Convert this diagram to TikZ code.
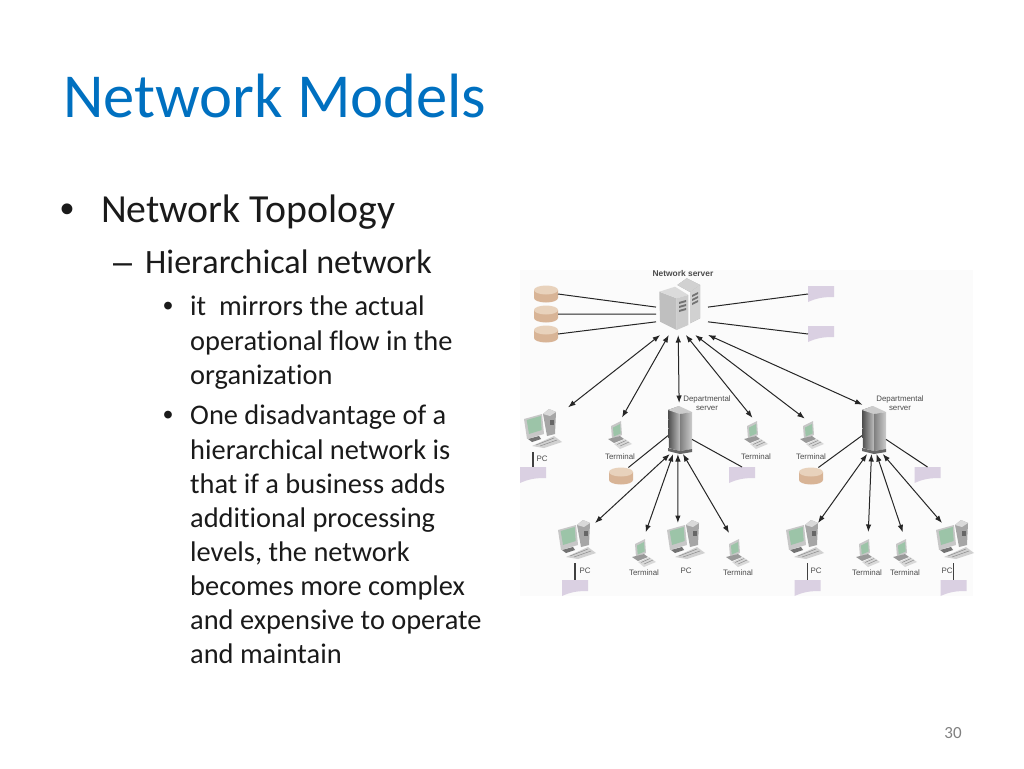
\documentclass[tikz,border=0pt]{standalone}
\usepackage{fontspec}
\setmainfont{Carlito}[Ligatures=NoCommon]
\newfontfamily\labelfont{Liberation Sans}
\usetikzlibrary{arrows.meta}
\definecolor{titleblue}{HTML}{0070C0}
\definecolor{bodyink}{HTML}{1A1A1A}
\definecolor{diskbody}{HTML}{D8B496}
\definecolor{disktop}{HTML}{E8D2BC}
\definecolor{docmauve}{HTML}{DAD0E2}
\definecolor{screengreen}{HTML}{9CC4A8}
\begin{document}
\begin{tikzpicture}[x=1pt, y=-1pt]
  \tikzset{
    slidetitle/.style={anchor=base west, inner sep=0, text=titleblue, font=\fontsize{62.6}{70}\selectfont},
    levelone/.style={anchor=base west, inner sep=0, text=bodyink, font=\fontsize{39.8}{48}\selectfont},
    leveltwo/.style={anchor=base west, inner sep=0, text=bodyink, font=\fontsize{34.1}{41}\selectfont},
    levelthree/.style={anchor=north west, inner sep=0, align=left, text=bodyink, font=\fontsize{28.4}{34.1}\selectfont},
    bulletmark/.style={anchor=base west, inner sep=0, text=bodyink, font=\labelfont\fontsize{#1}{#1}\selectfont},
    iconlabel/.style={inner sep=0, text=black!70, align=center, font=\labelfont\fontsize{7.9}{9.2}\selectfont},
    hidden box/.style={inner sep=0, outer sep=0, minimum width=#1},
    diskbox/.style={hidden box=24pt, minimum height=17pt},
    docbox/.style={hidden box=26pt, minimum height=16pt},
    pcbox/.style={hidden box=36pt, minimum height=32pt},
    termbox/.style={hidden box=24pt, minimum height=28pt},
    deptbox/.style={hidden box=24pt, minimum height=48pt},
    netbox/.style={hidden box=52pt, minimum height=54pt},
    plainlink/.style={draw=black!85, line width=1pt},
    duallink/.style={plainlink, >={Latex[length=7.5pt,width=5.5pt]}, <->},
    stem/.style={draw=black!75, line width=1.1pt},
  }
  \useasboundingbox (0,0) rectangle (1024,768);
  \fill[black!1.5] (520,270) rectangle (973,596);
  % ===== Slide text =====
  \node[slidetitle] (title) at (63,117) {Network Models};
  \node[bulletmark=39.8] (bulA) at (60,222) {•};
  \node[levelone] (topA) at (101,222) {Network Topology};
  \node[bulletmark=34.1] (bulB) at (113,273) {–};
  \node[leveltwo] (topB) at (145,273) {Hierarchical network};
  \node[bulletmark=28.4] (bulC) at (163,315) {•};
  \node[levelthree] (topC) at (190,296) {it~ mirrors the actual\\operational flow in the\\organization};
  \node[bulletmark=28.4] (bulD) at (163,424) {•};
  \node[levelthree] (topD) at (190,405) {One disadvantage of a\\hierarchical network is\\that if a business adds\\additional processing\\levels, the network\\becomes more complex\\and expensive to operate\\and maintain};
  \node[anchor=base, inner sep=0, text=black!50, font=\fontsize{17}{20}\selectfont] (pageno) at (953,738) {30};
  % ===== Network server =====
  \node[netbox] (netsrv) at (682,308) {};
  \begin{scope}[shift={(netsrv.center)}]
    \fill[black!35] (-4.7,-23) -- (4.7,-29.7) -- (18,-23) -- (18,10.3) -- (8,15.3) -- (8,-16) -- cycle;
    \fill[black!18] (-4.7,-23) -- (4.7,-29.7) -- (18,-23) -- (8,-16) -- cycle;
    \fill[black!18] (8,-16) -- (18,-23) -- (18,10.3) -- (8,15.3) -- cycle;
    \fill[black!25] (-22.7,-16.3) -- (-5.3,-9.7) -- (-5.3,22) -- (-22,13.7) -- cycle;
    \fill[black!14] (-22.7,-16.3) -- (-7,-21.3) -- (6.3,-13) -- (-5.3,-9.7) -- cycle;
    \fill[black!20] (-5.3,-9.7) -- (6.3,-13) -- (6.3,17) -- (-5.3,22) -- cycle;
    \foreach \s in {-6,-2,2}{
      \fill[black!55] (-3,\s) -- (4,\s-2) -- (4,\s) -- (-3,\s+2) -- cycle;
      \fill[black!55] (10,\s-7) -- (16,\s-10) -- (16,\s-8) -- (10,\s-5) -- cycle;
    }
  \end{scope}
  \node[iconlabel, font=\labelfont\bfseries\fontsize{8.4}{9}\selectfont] (netlabel) at (683,273) {Network server};
  % ===== Departmental servers =====
  \foreach \n/\x/\t in {deptA/680/707,deptB/874/900}{
    \node[deptbox] (\n) at (\x,430) {};
    \begin{scope}[shift={(\n.center)}]
      \shade[left color=black!70, right color=black!25] (-12,-20) -- (-1,-24) -- (0,-19) -- (0,21) -- (-11,18) -- cycle;
      \fill[black!20] (-12,-20) -- (-1,-24) -- (12,-18) -- (0,-16) -- cycle;
      \shade[left color=black!50, right color=black!20] (0,-16) -- (12,-18) -- (12,19) -- (0,21) -- cycle;
      \fill[black!60] (-12,18) -- (0,21) -- (12,19) -- (12,22) -- (0,24) -- (-12,21) -- cycle;
    \end{scope}
    \node[iconlabel] (\n label) at (\t,403.5) {Departmental\\server};
  }
  % ===== Disks =====
  \foreach \n/\x/\y in {diskA/546/294,diskB/546/314,diskC/546/334,diskD/621/476,diskE/811/476}{
    \node[diskbox] (\n) at (\x,\y) {};
    \begin{scope}[shift={(\n.center)}]
      \fill[diskbody] (-12,-4) -- (-12,4) arc[start angle=180, end angle=360, x radius=12, y radius=-4.5] -- (12,-4) -- cycle;
      \fill[disktop] (0,-4) ellipse[x radius=12, y radius=4.5];
    \end{scope}
  }
  % ===== Documents =====
  \foreach \n/\x/\y in {docA/821/294,docB/821/334,docC/533/475,docD/742/475,docE/927.5/475,docF/575/588,docG/807.5/588,docH/953.5/588}{
    \node[docbox] (\n) at (\x,\y) {};
    \begin{scope}[shift={(\n.center)}]
      \fill[docmauve] (-13,-8) -- (13,-8) -- (13,3) .. controls (2,3) and (-4,4) .. (-13,8) -- cycle;
    \end{scope}
  }
  % ===== PCs =====
  \foreach \n/\x/\y in {pcA/543/428,pcB/577/539,pcC/686/539,pcD/805/539,pcE/955/539}{
    \node[pcbox] (\n) at (\x,\y) {};
    \begin{scope}[shift={(\n.center)}]
      \fill[black!35] (0,-14) -- (6,-19) -- (13,-16) -- (12,6) -- (4,8) -- cycle;
      \fill[black!15] (6,-19) -- (13,-16) -- (7,-12) -- (0,-14) -- cycle;
      \fill[black!60] (7,-8) rectangle (11,-3);
      \fill[black!22] (-19,-9) -- (-1,-14) -- (1,6) -- (-16,11) -- cycle;
      \fill[screengreen] (-16.3,-8) -- (-2.3,-12) -- (-1.3,2) -- (-14,6) -- cycle;
      \fill[black!55] (-15,11) -- (-4,8) -- (-2,11) -- (-11,14) -- cycle;
      \fill[black!18] (-11,18) -- (11,8) -- (19,14) -- (1,20) -- cycle;
      \draw[black!45, line width=0.5pt] (-7,17) -- (11,10) (-3,18) -- (14,12);
    \end{scope}
  }
  % ===== Terminals =====
  \foreach \n/\x/\y in {termA/620/435,termB/756/435,termC/812/435,termD/644/553,termE/738/553,termF/868/553,termG/905/553}{
    \node[termbox] (\n) at (\x,\y) {};
    \begin{scope}[shift={(\n.center)}]
      \fill[black!22] (-9,-9) -- (1,-14) -- (2,0) -- (-8,4) -- cycle;
      \fill[screengreen] (-7,-7.5) -- (0,-11) -- (0.7,-1.5) -- (-6.3,1.5) -- cycle;
      \fill[black!40] (-12,4) -- (0,1) -- (4,4) -- (-6,8) -- cycle;
      \fill[black!15] (-6,9) -- (5,4) -- (12,9) -- (0,14) -- cycle;
      \draw[black!45, line width=0.5pt] (-3,9.5) -- (6,5.5) (0,11) -- (9,7);
    \end{scope}
  }
  % ===== Labels =====
  \foreach \n/\x/\y/\t in {lblA/542/459/PC,lblB/585/571/PC,lblC/686/571/PC,lblD/816/571/PC,lblE/947/571/PC,lblF/620/457/Terminal,lblG/756/457/Terminal,lblH/811/457/Terminal,lblI/644/573/Terminal,lblJ/738/573/Terminal,lblK/867/573/Terminal,lblL/905/573/Terminal}{
    \node[iconlabel] (\n) at (\x,\y) {\t};
  }
  % ===== Plain links =====
  \foreach \a/\b in {diskA.east/netsrv.178,diskB.east/netsrv.193,diskC.east/netsrv.208,docA.west/netsrv.2,docB.west/netsrv.332,deptA.205/diskD.49,deptA.322/docD.north,deptB.205/diskE.49,deptB.322/docE.north}{
    \draw[plainlink] (\a) -- (\b);
  }
  % ===== Arrows =====
  \foreach \a/\b/\g in {netsrv.231/pcA.40/9,netsrv.244/termA.90/4,netsrv.262/deptA.92/3,netsrv.278/termB.94/4,netsrv.296/termC.106/4,netsrv.314/deptB.110/3,deptA.247/pcB.north east/0,deptA.254/termD.93/7,deptA.265/pcC.117/0,deptA.277/termE.111/7,deptB.254/pcD.51/0,deptB.264/termF.90/7,deptB.276/termG.90/7,deptB.290/pcE.129/0}{
    \draw[duallink, shorten >=\g pt] (\a) -- (\b);
  }
  % ===== PC stems =====
  \foreach \p/\d in {pcA/docC,pcB/docF,pcD/docG,pcE/docH}{
    \draw[stem, shorten <=8pt] (\p.south -| \d.north) -- (\d.north);
  }
\end{tikzpicture}
\end{document}
